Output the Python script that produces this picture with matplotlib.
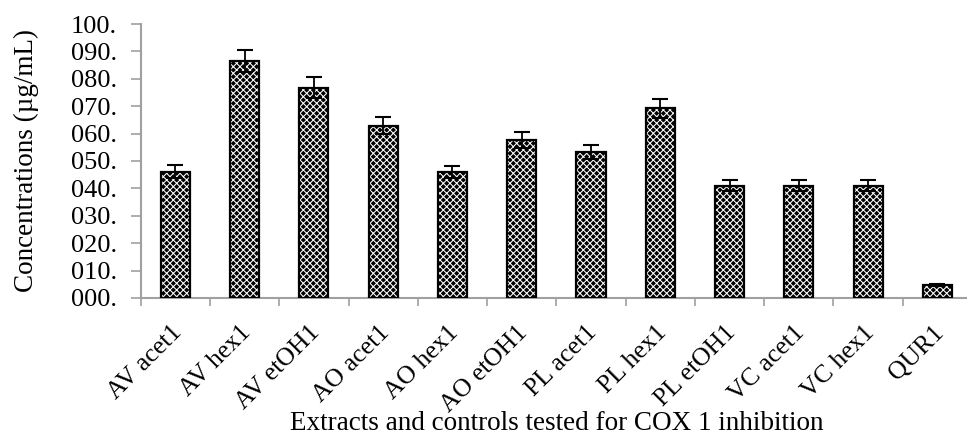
import matplotlib
matplotlib.use("Agg")
import matplotlib.pyplot as plt
import matplotlib.transforms as mtransforms
import numpy as np

samples = ["AV acet1", "AV hex1", "AV etOH1", "AO acet1", "AO hex1", "AO etOH1",
           "PL acet1", "PL hex1", "PL etOH1", "VC acet1", "VC hex1", "QUR1"]
conc = [46.1, 86.4, 76.8, 62.9, 46.1, 57.6, 53.2, 69.2, 40.9, 40.9, 40.9, 4.7]
err = [2.3, 4.1, 3.9, 3.0, 2.2, 2.9, 2.5, 3.4, 2.0, 2.0, 2.0, 0.3]
yticks = list(range(0, 101, 10))

plt.rcParams['font.family'] = ['Liberation Serif', 'DejaVu Serif']
plt.rcParams['hatch.linewidth'] = 0.75

fig = plt.figure(figsize=(9.67, 4.34), dpi=100)
ax = fig.add_axes([0.1455, 0.3134, 0.8597, 0.6313])

x = np.arange(len(samples))
width = 0.42
# dark base, white dotted hatch on top, then the black outline
ax.bar(x, conc, width, color='black', zorder=2)
ax.bar(x, conc, width, facecolor='none', edgecolor='white', hatch='xxxxx',
       linewidth=0, zorder=3)
ax.bar(x, conc, width, facecolor='none', edgecolor='black', linewidth=1.6, zorder=4)
ax.errorbar(x, conc, yerr=err, fmt='none', ecolor='black', elinewidth=1.3,
            capsize=6, capthick=1.5, zorder=5)

ax.set_xlim(-0.5, len(samples) - 0.5)
ax.set_ylim(0, 100)
ax.set_yticks(yticks)
ax.set_yticklabels([f"{v:03d}." for v in yticks], fontsize=19)

ax.set_xticks(x)
ax.set_xticklabels(samples, rotation=45, ha='right', rotation_mode='anchor', fontsize=18.5)
ax.tick_params(axis='x', length=0, pad=17)
ax.set_xticks(np.arange(len(samples) + 1) - 0.5, minor=True)
ax.tick_params(axis='x', which='minor', length=6, width=1.2, color='#a0a0a0')
ax.tick_params(axis='y', length=7, width=1.2, color='#a0a0a0', pad=10)

# nudge the slanted category names a little to the left
shift = mtransforms.ScaledTranslation(-5 / 100, 0, fig.dpi_scale_trans)
for lbl in ax.get_xticklabels():
    lbl.set_transform(lbl.get_transform() + shift)

for side in ['top', 'right']:
    ax.spines[side].set_visible(False)
for side in ['left', 'bottom']:
    ax.spines[side].set_color('#a0a0a0')
    ax.spines[side].set_linewidth(1.5)

ax.set_ylabel("Concentrations (µg/mL)", fontsize=19.5, labelpad=23)
ax.set_xlabel("Extracts and controls tested for COX 1 inhibition", fontsize=19.5, labelpad=-4)

fig.savefig("out.png", dpi=100)
